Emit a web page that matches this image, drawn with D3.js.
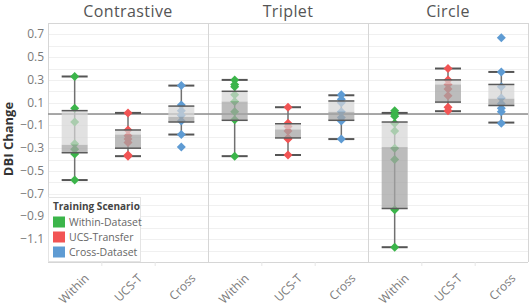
<!DOCTYPE html>
<html><head><meta charset="utf-8">
<script src="https://cdn.jsdelivr.net/npm/d3@7"></script>
<style>body{margin:0;background:#fff}svg{display:block}text{font-family:"Open Sans",sans-serif}</style>
</head><body><svg id="c" width="530" height="304"></svg>
<script>
const panels = ["Contrastive", "Triplet", "Circle"];
const categories = ["Within", "UCS-T", "Cross"];
const legendLabels = ["Within-Dataset", "UCS-Transfer", "Cross-Dataset"];
const colors = ["#3bb54a", "#f25454", "#5e9bd3"];
const yTicks = [0.7, 0.5, 0.3, 0.1, -0.1, -0.3, -0.5, -0.7, -0.9, -1.1];
// points per panel, per category
const contrastivePts = [
  [0.33, 0.05, -0.07, -0.26, -0.31, -0.35, -0.58],
  [0.01, -0.14, -0.19, -0.22, -0.25, -0.36, -0.37],
  [0.25, 0.08, 0.03, -0.01, -0.06, -0.18, -0.29]
];
const tripletPts = [
  [0.30, 0.26, 0.24, 0.17, 0.11, 0.02, -0.05, -0.37],
  [0.06, -0.08, -0.11, -0.15, -0.21, -0.22, -0.36],
  [0.17, 0.13, 0.10, 0.02, -0.03, -0.06, -0.22]
];
const circlePts = [
  [0.03, 0.0, -0.02, -0.08, -0.15, -0.30, -0.40, -0.84, -1.17],
  [0.40, 0.30, 0.26, 0.22, 0.16, 0.06, 0.03],
  [0.67, 0.37, 0.24, 0.14, 0.09, 0.05, 0.02, -0.08]
];
// box stats: [whiskerLow, q1, median, q3, whiskerHigh]
const contrastiveBox = [
  [-0.58, -0.34, -0.27, 0.03, 0.33],
  [-0.37, -0.30, -0.18, -0.14, 0.01],
  [-0.18, -0.07, -0.025, 0.07, 0.25]
];
const tripletBox = [
  [-0.37, -0.055, 0.11, 0.20, 0.30],
  [-0.36, -0.21, -0.135, -0.085, 0.06],
  [-0.22, -0.055, 0.02, 0.115, 0.165]
];
const circleBox = [
  [-1.17, -0.83, -0.29, -0.07, 0.01],
  [0.025, 0.105, 0.26, 0.30, 0.40],
  [-0.075, 0.075, 0.135, 0.26, 0.37]
];
const allPts = [contrastivePts, tripletPts, circlePts];
const allBox = [contrastiveBox, tripletBox, circleBox];

const svg = d3.select("#c");
const pLeft = 48, pRight = 528, pTop = 23, pBottom = 262;
const y = d3.scaleLinear().domain([-1.3, 0.8]).range([pBottom, pTop]);
const px = d3.scaleBand().domain(panels).range([pLeft, pRight]);
const bw = 26;

// gridlines
const grid = d3.range(-12, 8).map(d => d / 10);
svg.append("g").selectAll("line").data(grid).join("line")
  .attr("x1", pLeft).attr("x2", pRight)
  .attr("y1", d => Math.round(y(d)) + 0.5).attr("y2", d => Math.round(y(d)) + 0.5)
  .attr("stroke", "#f0f0f0").attr("stroke-width", 1);

// panel frames
svg.append("line").attr("x1", pLeft).attr("x2", pRight).attr("y1", pTop + 0.5).attr("y2", pTop + 0.5).attr("stroke", "#d6d6d6");
svg.append("line").attr("x1", pLeft).attr("x2", pRight).attr("y1", pBottom + 0.5).attr("y2", pBottom + 0.5).attr("stroke", "#d6d6d6");
svg.append("g").selectAll("line").data(panels.concat(["end"])).join("line")
  .attr("x1", (d, i) => pLeft + i * px.bandwidth() + 0.5).attr("x2", (d, i) => pLeft + i * px.bandwidth() + 0.5)
  .attr("y1", pTop).attr("y2", pBottom)
  .attr("stroke", "#d6d6d6");

// headers
svg.append("g").selectAll("text").data(panels).join("text")
  .attr("x", d => px(d) + px.bandwidth() / 2).attr("y", 17)
  .attr("text-anchor", "middle").attr("font-size", 16).attr("fill", "#555")
  .attr("letter-spacing", 0.4).text(d => d);

// y tick labels
svg.append("g").selectAll("text").data(yTicks).join("text")
  .attr("x", 44).attr("y", d => y(d) + 4).attr("text-anchor", "end")
  .attr("font-size", 12).attr("fill", "#7a7a7a").text(d => d3.format(".1f")(d));
svg.append("text").attr("transform", `translate(13,${139}) rotate(-90)`)
  .attr("text-anchor", "middle").attr("font-size", 13).attr("font-weight", "bold")
  .attr("fill", "#333").text("DBI Change");

// zero line
svg.append("line").attr("x1", pLeft).attr("x2", pRight).attr("y1", y(0)).attr("y2", y(0))
  .attr("stroke", "#8c8c8c").attr("stroke-width", 1.5);

const diamond = d => `M0,${-d}L${d},0L0,${d}L${-d},0Z`;

panels.forEach((p, pi) => {
  const xc = d3.scaleBand().domain(categories).range([px(p), px(p) + px.bandwidth()]);
  const g = svg.append("g");
  g.selectAll("line.tk").data(categories.slice(1)).join("line").attr("class", "tk")
    .attr("x1", d => xc(d) + 0.5).attr("x2", d => xc(d) + 0.5).attr("y1", pBottom).attr("y2", pBottom + 4)
    .attr("stroke", "#e6e6e6");
  categories.forEach((c, ci) => {
    const cx = xc(c) + xc.bandwidth() / 2;
    const b = allBox[pi][ci];
    g.append("line").attr("x1", cx).attr("x2", cx).attr("y1", y(b[0])).attr("y2", y(b[4]))
      .attr("stroke", "#707070").attr("stroke-width", 1.5);
    [b[0], b[4]].forEach(v => g.append("line").attr("x1", cx - bw / 2).attr("x2", cx + bw / 2)
      .attr("y1", y(v)).attr("y2", y(v)).attr("stroke", "#555").attr("stroke-width", 2));
    g.selectAll(null).data(allPts[pi][ci]).join("path")
      .attr("transform", d => `translate(${cx},${y(d)})`).attr("d", diamond(4.5))
      .attr("fill", colors[ci]);
    g.append("rect").attr("x", cx - bw / 2).attr("width", bw)
      .attr("y", y(b[3])).attr("height", y(b[2]) - y(b[3]))
      .attr("fill", "#d6d6d6").attr("fill-opacity", 0.72);
    g.append("rect").attr("x", cx - bw / 2).attr("width", bw)
      .attr("y", y(b[2])).attr("height", y(b[1]) - y(b[2]))
      .attr("fill", "#a6a6a6").attr("fill-opacity", 0.75);
    [b[1], b[3]].forEach(v => g.append("line").attr("x1", cx - bw / 2).attr("x2", cx + bw / 2)
      .attr("y1", y(v)).attr("y2", y(v)).attr("stroke", "#5a5a5a").attr("stroke-width", 1.5));
    g.append("text").attr("transform", `translate(${cx + 15},${279}) rotate(-45)`)
      .attr("text-anchor", "end").attr("font-size", 12).attr("fill", "#7a7a7a").text(c);
  });
});

// legend
const lg = svg.append("g");
lg.append("rect").attr("x", pLeft + 0.5).attr("y", 197.5).attr("width", 92).attr("height", 64)
  .attr("fill", "#fff").attr("stroke", "#e4e4e4");
lg.append("text").attr("x", 53).attr("y", 210).attr("font-size", 10).attr("font-weight", "bold")
  .attr("fill", "#444").text("Training Scenario");
legendLabels.forEach((l, i) => {
  lg.append("rect").attr("x", 53).attr("y", 216.5 + i * 15).attr("width", 12).attr("height", 11).attr("fill", colors[i]);
  lg.append("text").attr("x", 69).attr("y", 226 + i * 15).attr("font-size", 10.5).attr("fill", "#666").text(l);
});
</script></body></html>
